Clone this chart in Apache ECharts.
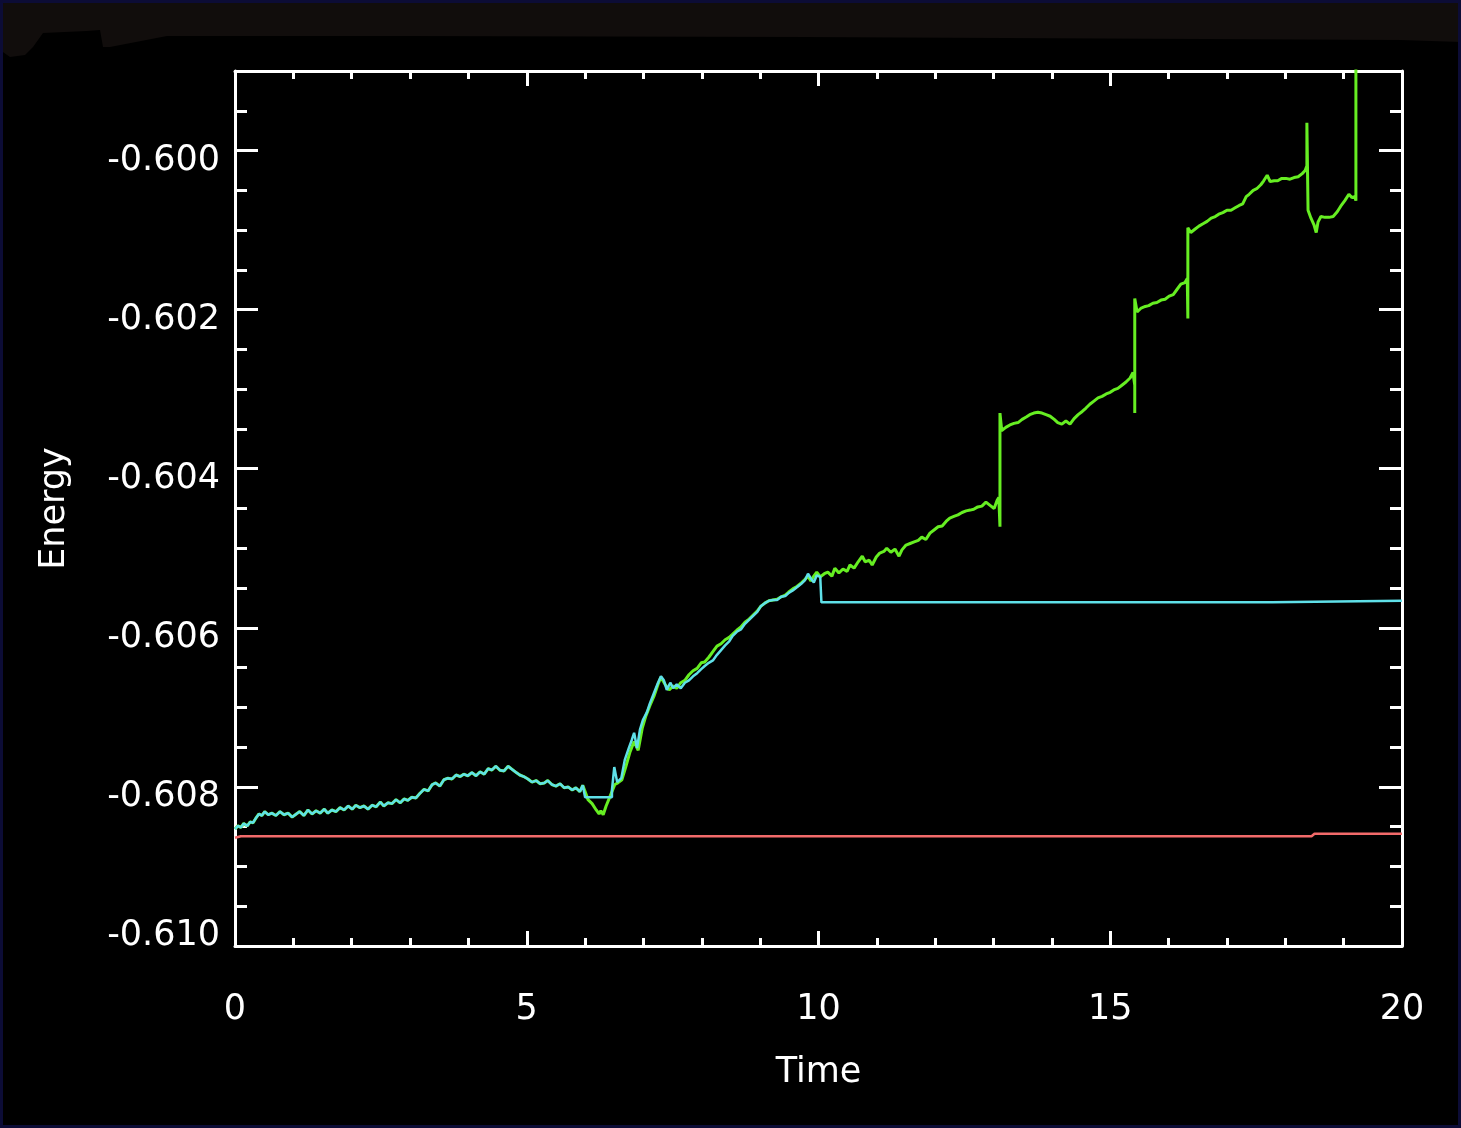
<!DOCTYPE html>
<html>
<head>
<meta charset="utf-8">
<script src="https://cdn.jsdelivr.net/npm/echarts@6/dist/echarts.min.js"></script>
<style>
  html, body { margin: 0; padding: 0; background: #000; }
  #chart { width: 1461px; height: 1128px; }
</style>
</head>
<body>
<div id="chart"></div>
<script>
// Common early history (both runs coincide up to t ~ 6)
const earlyTime = [0.00,0.05,0.10,0.15,0.21,0.26,0.31,0.36,0.41,0.46,0.51,0.57,0.63,0.70,0.77,0.84,0.91,0.98,1.05,1.11,1.18,1.25,1.32,1.39,1.46,1.53,1.59,1.66,1.73,1.80,1.87,1.94,2.01,2.07,2.14,2.21,2.28,2.35,2.42,2.49,2.55,2.62,2.69,2.76,2.83,2.90,2.96,3.03,3.10,3.17,3.24,3.31,3.38,3.44,3.51,3.58,3.65,3.72,3.79,3.86,3.92,3.99,4.06,4.13,4.20,4.27,4.34,4.40,4.47,4.54,4.61,4.68,4.75,4.82,4.88,4.95,5.02,5.09,5.16,5.23,5.30,5.36,5.43,5.50,5.57,5.64,5.71,5.78,5.84,5.91,5.96];
const earlyEnergy = [-0.60853,-0.60849,-0.60851,-0.60846,-0.60849,-0.60844,-0.60845,-0.60839,-0.60834,-0.60836,-0.60831,-0.60835,-0.60833,-0.60836,-0.60831,-0.60835,-0.60833,-0.60838,-0.60834,-0.60831,-0.60836,-0.60829,-0.60834,-0.60830,-0.60833,-0.60828,-0.60833,-0.60829,-0.60831,-0.60826,-0.60829,-0.60824,-0.60828,-0.60823,-0.60826,-0.60824,-0.60828,-0.60823,-0.60825,-0.60819,-0.60824,-0.60820,-0.60821,-0.60816,-0.60820,-0.60815,-0.60817,-0.60813,-0.60814,-0.60808,-0.60803,-0.60805,-0.60797,-0.60795,-0.60799,-0.60791,-0.60789,-0.60790,-0.60785,-0.60787,-0.60784,-0.60786,-0.60782,-0.60786,-0.60781,-0.60784,-0.60777,-0.60779,-0.60774,-0.60779,-0.60780,-0.60774,-0.60778,-0.60782,-0.60785,-0.60787,-0.60790,-0.60794,-0.60792,-0.60796,-0.60795,-0.60792,-0.60797,-0.60799,-0.60796,-0.60801,-0.60800,-0.60804,-0.60801,-0.60806,-0.60798];

// Run A (cyan): continues to t ~ 10, then holds constant
const cyanTime = [6.00,6.46,6.46,6.50,6.55,6.62,6.68,6.75,6.80,6.84,6.89,6.94,6.99,7.06,7.11,7.18,7.25,7.30,7.35,7.40,7.46,7.51,7.57,7.64,7.71,7.78,7.85,7.92,7.99,8.05,8.12,8.19,8.26,8.33,8.40,8.47,8.53,8.60,8.67,8.74,8.81,8.88,8.95,9.01,9.08,9.15,9.22,9.29,9.36,9.43,9.49,9.56,9.63,9.70,9.77,9.82,9.87,9.92,9.97,10.03,10.05,17.77,17.80,20.00];
const cyanEnergy = [-0.60813,-0.60813,-0.60804,-0.60775,-0.60794,-0.60789,-0.60766,-0.60751,-0.60741,-0.60732,-0.60751,-0.60728,-0.60716,-0.60706,-0.60695,-0.60682,-0.60669,-0.60661,-0.60666,-0.60678,-0.60669,-0.60676,-0.60671,-0.60676,-0.60669,-0.60666,-0.60661,-0.60657,-0.60652,-0.60648,-0.60644,-0.60641,-0.60634,-0.60628,-0.60622,-0.60617,-0.60610,-0.60605,-0.60602,-0.60595,-0.60590,-0.60585,-0.60580,-0.60573,-0.60569,-0.60566,-0.60565,-0.60565,-0.60561,-0.60560,-0.60556,-0.60553,-0.60549,-0.60545,-0.60540,-0.60532,-0.60538,-0.60543,-0.60534,-0.60536,-0.60568,-0.60568,-0.60566,-0.60566];

// Run B (green): keeps evolving, with jumps
const greenTime = [6.05,6.12,6.19,6.24,6.27,6.31,6.36,6.41,6.46,6.51,6.56,6.63,6.70,6.77,6.84,6.91,6.98,7.04,7.11,7.18,7.25,7.30,7.37,7.44,7.51,7.57,7.64,7.71,7.78,7.85,7.92,7.99,8.05,8.12,8.19,8.26,8.33,8.40,8.47,8.53,8.60,8.67,8.74,8.81,8.88,8.95,9.01,9.08,9.15,9.22,9.29,9.36,9.43,9.49,9.56,9.63,9.70,9.77,9.82,9.87,9.92,9.97,10.03,
  10.10,10.16,10.23,10.28,10.35,10.42,10.49,10.54,10.61,10.68,10.75,10.80,10.87,10.92,10.99,11.05,11.12,11.17,11.24,11.31,11.38,11.43,11.50,11.57,11.64,11.71,11.77,11.84,11.91,11.98,12.05,12.12,12.19,12.25,12.32,12.39,12.46,12.53,12.60,12.66,12.73,12.80,12.87,12.94,13.01,13.06,13.09,13.11,13.11,
  13.14,13.21,13.28,13.35,13.42,13.49,13.56,13.62,13.69,13.76,13.83,13.90,13.97,14.04,14.10,14.17,14.24,14.31,14.38,14.45,14.52,14.58,14.65,14.72,14.79,14.86,14.93,15.00,15.06,15.13,15.20,15.27,15.34,15.39,15.42,15.42,15.42,
  15.46,15.53,15.60,15.66,15.73,15.80,15.87,15.94,16.01,16.08,16.14,16.21,16.28,16.32,16.33,16.33,
  16.38,16.45,16.52,16.59,16.66,16.73,16.80,16.86,16.93,17.00,17.07,17.14,17.21,17.27,17.33,17.38,17.45,17.51,17.58,17.63,17.69,17.74,17.81,17.87,17.94,18.01,18.08,18.15,18.22,18.29,18.34,18.37,18.37,
  18.39,18.44,18.49,18.53,18.56,18.61,18.68,18.75,18.82,18.89,18.95,19.02,19.09,19.14,19.19,19.21,19.21];
const greenEnergy = [-0.60816,-0.60821,-0.60829,-0.60834,-0.60830,-0.60835,-0.60824,-0.60815,-0.60806,-0.60797,-0.60795,-0.60791,-0.60774,-0.60756,-0.60743,-0.60754,-0.60726,-0.60711,-0.60698,-0.60686,-0.60671,-0.60662,-0.60671,-0.60678,-0.60673,-0.60676,-0.60669,-0.60666,-0.60659,-0.60654,-0.60651,-0.60644,-0.60643,-0.60637,-0.60630,-0.60623,-0.60620,-0.60615,-0.60612,-0.60608,-0.60603,-0.60599,-0.60593,-0.60589,-0.60584,-0.60579,-0.60573,-0.60569,-0.60566,-0.60565,-0.60564,-0.60561,-0.60559,-0.60555,-0.60551,-0.60548,-0.60544,-0.60539,-0.60535,-0.60541,-0.60535,-0.60530,-0.60536,
  -0.60532,-0.60530,-0.60535,-0.60525,-0.60531,-0.60526,-0.60529,-0.60521,-0.60525,-0.60517,-0.60510,-0.60517,-0.60515,-0.60521,-0.60511,-0.60506,-0.60504,-0.60500,-0.60505,-0.60501,-0.60510,-0.60502,-0.60496,-0.60494,-0.60492,-0.60490,-0.60486,-0.60489,-0.60481,-0.60477,-0.60473,-0.60472,-0.60466,-0.60462,-0.60460,-0.60458,-0.60455,-0.60453,-0.60452,-0.60451,-0.60448,-0.60447,-0.60442,-0.60446,-0.60450,-0.60440,-0.60436,-0.60473,-0.60330,
  -0.60352,-0.60348,-0.60345,-0.60343,-0.60342,-0.60338,-0.60335,-0.60332,-0.60330,-0.60329,-0.60330,-0.60332,-0.60334,-0.60338,-0.60342,-0.60344,-0.60340,-0.60344,-0.60337,-0.60332,-0.60328,-0.60324,-0.60319,-0.60315,-0.60311,-0.60309,-0.60306,-0.60304,-0.60301,-0.60299,-0.60295,-0.60291,-0.60286,-0.60279,-0.60295,-0.60330,-0.60186,
  -0.60203,-0.60198,-0.60196,-0.60195,-0.60192,-0.60191,-0.60188,-0.60187,-0.60183,-0.60181,-0.60175,-0.60168,-0.60166,-0.60161,-0.60211,-0.60097,
  -0.60103,-0.60099,-0.60095,-0.60092,-0.60089,-0.60085,-0.60083,-0.60080,-0.60078,-0.60075,-0.60075,-0.60072,-0.60069,-0.60067,-0.60058,-0.60055,-0.60050,-0.60048,-0.60043,-0.60038,-0.60031,-0.60039,-0.60038,-0.60038,-0.60035,-0.60035,-0.60036,-0.60034,-0.60033,-0.60029,-0.60025,-0.60019,-0.59965,
  -0.60075,-0.60085,-0.60093,-0.60103,-0.60090,-0.60083,-0.60084,-0.60084,-0.60083,-0.60077,-0.60070,-0.60063,-0.60055,-0.60059,-0.60058,-0.60063,-0.59850];

// Reference (red): nearly constant
const redTime = [0.00, 0.10, 18.45, 18.50, 20.00];
const redEnergy = [-0.60864, -0.60862, -0.60862, -0.60859, -0.60859];

const xTicks = { min: 0, max: 20, interval: 5 };
const yTicks = { min: -0.610, max: -0.599, major: 0.002, minor: 0.0005 };

const zip = (xs, ys) => xs.map((x, i) => [x, ys[i]]);

const FONT = 'DejaVu Sans';
const WHITE = '#ffffff';

const chart = echarts.init(document.getElementById('chart'), null, { renderer: 'canvas' });

const xBase = {
  type: 'value', min: xTicks.min, max: xTicks.max, interval: xTicks.interval,
  splitLine: { show: false },
  axisLine: { show: true, onZero: false, lineStyle: { color: WHITE, width: 3 } },
  axisTick: { show: true, inside: true, length: 15, lineStyle: { color: WHITE, width: 3 } },
  minorTick: { show: true, splitNumber: 5, length: 8, lineStyle: { color: WHITE, width: 3 } }
};

function yAxisDef(position, step, tickLen, withLabels) {
  const a = {
    type: 'value', position: position, min: yTicks.min, max: yTicks.max, interval: step,
    splitLine: { show: false },
    axisLine: { show: withLabels, onZero: false, lineStyle: { color: WHITE, width: 3 } },
    axisTick: { show: true, inside: true, length: tickLen, lineStyle: { color: WHITE, width: 3 } },
    axisLabel: { show: false }
  };
  if (withLabels && position === 'left') {
    a.axisLabel = {
      show: true, margin: 15, color: WHITE,
      formatter: function (v) {
        if (v > -0.5995) return '';
        const s = v.toFixed(3);
        return Math.abs(v - yTicks.min) < 1e-9 ? '{lo|' + s + '}' : '{hi|' + s + '}';
      },
      rich: {
        hi: { fontFamily: FONT, fontSize: 35, color: WHITE, padding: [20, 0, 0, 0] },
        lo: { fontFamily: FONT, fontSize: 35, color: WHITE, padding: [0, 0, 20, 0] }
      }
    };
    a.name = 'Energy';
    a.nameLocation = 'middle';
    a.nameGap = 163;
    a.nameTextStyle = { fontFamily: FONT, fontSize: 35, color: WHITE };
  }
  return a;
}

const option = {
  backgroundColor: '#000000',
  animation: false,
  grid: { left: 235, right: 59, top: 71, bottom: 182, containLabel: false },
  graphic: [
    {
      type: 'polygon', z: -10, silent: true,
      shape: { points: [[0,0],[1461,0],[1461,42],[1400,40],[800,37],[400,36],[167,36],[110,47],[103,47],[100,30],[87,31],[43,33],[33,47],[25,55],[10,57],[0,50]] },
      style: { fill: '#110d0c' }
    },
    {
      type: 'rect', z: 100, silent: true,
      shape: { x: 0, y: 0, width: 1461, height: 1128 },
      style: { fill: null, stroke: '#0c0c36', lineWidth: 6 }
    }
  ],
  xAxis: [
    Object.assign({}, xBase, {
      position: 'bottom',
      axisLabel: { show: true, margin: 46, color: WHITE, fontFamily: FONT, fontSize: 35 },
      name: 'Time', nameLocation: 'middle', nameGap: 109,
      nameTextStyle: { fontFamily: FONT, fontSize: 35, color: WHITE }
    }),
    Object.assign({}, xBase, { position: 'top', axisLabel: { show: false } })
  ],
  yAxis: [
    yAxisDef('left', yTicks.major, 23, true),
    yAxisDef('left', yTicks.minor, 12, false),
    yAxisDef('right', yTicks.major, 23, true),
    yAxisDef('right', yTicks.minor, 12, false)
  ],
  series: [
    {
      type: 'line', xAxisIndex: 0, yAxisIndex: 0, showSymbol: false, clip: true,
      data: zip(earlyTime, earlyEnergy).concat(zip(greenTime, greenEnergy)),
      lineStyle: { color: '#66ee22', width: 3 }, z: 2
    },
    {
      type: 'line', xAxisIndex: 0, yAxisIndex: 0, showSymbol: false, clip: true,
      data: zip(earlyTime, earlyEnergy).concat(zip(cyanTime, cyanEnergy)),
      lineStyle: { color: '#5fe0e8', width: 2.5 }, z: 3
    },
    {
      type: 'line', xAxisIndex: 0, yAxisIndex: 0, showSymbol: false, clip: true,
      data: zip(redTime, redEnergy),
      lineStyle: { color: '#f26a6a', width: 2.5 }, z: 4
    }
  ]
};

chart.setOption(option);
</script>
</body>
</html>
